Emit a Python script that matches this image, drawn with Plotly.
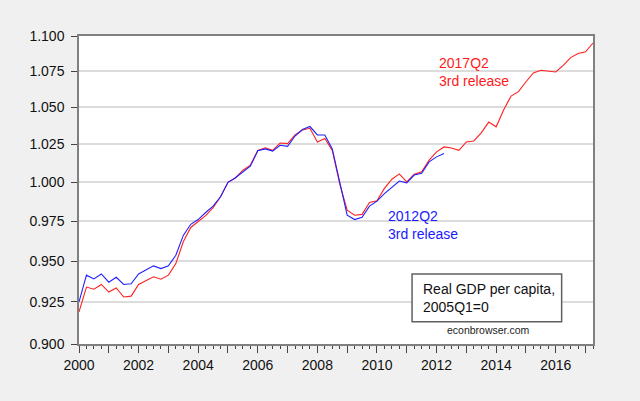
import math
import plotly.graph_objects as go

start_year = 2000
# Real GDP per capita, 2005Q1 = 1 (log scale), quarterly from 2000Q1
red_2017q2 = [0.919, 0.934, 0.9327, 0.9356, 0.931, 0.9335, 0.928, 0.9285,
              0.9356, 0.9378, 0.9403, 0.9388, 0.9413, 0.9484, 0.962, 0.971,
              0.9745, 0.9785, 0.9836, 0.9906, 1.000, 1.0028, 1.0079, 1.0112,
              1.021, 1.0227, 1.021, 1.0259, 1.0255, 1.0313, 1.0347, 1.0358,
              1.0266, 1.0289, 1.021, 0.999, 0.982, 0.9788, 0.9793, 0.987,
              0.988, 0.996, 1.002, 1.0055, 1.0002, 1.0053, 1.0068, 1.0145,
              1.020, 1.0233, 1.0226, 1.021, 1.0266, 1.0273, 1.0327, 1.040,
              1.0368, 1.0482, 1.0578, 1.0608, 1.0677, 1.0739, 1.0757, 1.0752,
              1.0745, 1.0792, 1.0846, 1.0875, 1.0887, 1.095]
blue_2012q2 = [0.925, 0.9413, 0.939, 0.942, 0.937, 0.940, 0.9356, 0.936,
               0.942, 0.9447, 0.947, 0.9453, 0.947, 0.9536, 0.966, 0.973,
               0.976, 0.9805, 0.9846, 0.9906, 1.000, 1.003, 1.0068, 1.0105,
               1.0207, 1.022, 1.0205, 1.0244, 1.0237, 1.0306, 1.035, 1.037,
               1.0313, 1.0313, 1.022, 1.001, 0.9788, 0.976, 0.9774, 0.9846,
               0.9878, 0.9926, 0.9968, 1.0008, 0.9996, 1.0047, 1.0059, 1.0134,
               1.0167, 1.019]

y_ticks = [0.900, 0.925, 0.950, 0.975, 1.000, 1.025, 1.050, 1.075, 1.100]
x_years = list(range(2000, 2018))
x_labels = [str(y) if y % 2 == 0 else "" for y in x_years]


def qx(n):
    return [start_year + i / 4 for i in range(n)]


FONT = "Arial, Liberation Sans, sans-serif"

fig = go.Figure()
fig.add_trace(go.Scatter(x=qx(len(red_2017q2)), y=red_2017q2, mode="lines",
                         line=dict(color="#ff2020", width=1.1), showlegend=False))
fig.add_trace(go.Scatter(x=qx(len(blue_2012q2)), y=blue_2012q2, mode="lines",
                         line=dict(color="#2020ff", width=1.1), showlegend=False))

fig.update_layout(
    width=640, height=401,
    margin=dict(l=79, r=47, t=36, b=57),
    paper_bgcolor="#f0f0f0", plot_bgcolor="white",
    font=dict(family=FONT, size=14, color="#111"),
    xaxis=dict(range=[2000, 2017.25], tickvals=x_years, ticktext=x_labels,
               ticks="outside", ticklen=7, tickcolor="#444", showgrid=False,
               showline=True, linecolor="#808080", linewidth=1.5, mirror=True,
               zeroline=False,
               minor=dict(tick0=2000, dtick=0.25, ticks="outside", ticklen=3,
                          tickcolor="#444", showgrid=False)),
    yaxis=dict(type="log", range=[math.log10(0.9), math.log10(1.1)],
               tickvals=y_ticks, ticktext=["%.3f" % v for v in y_ticks],
               ticks="outside", ticklen=6, tickcolor="#444",
               showgrid=True, gridcolor="#dcdcdc", gridwidth=1.5,
               showline=True, linecolor="#808080", linewidth=1.5, mirror=True,
               zeroline=False, ticklabelstandoff=4),
)

fig.add_annotation(xref="paper", yref="paper", x=0.697, y=0.882,
                   xanchor="left", yanchor="middle", align="left",
                   text="2017Q2<br>3rd release", showarrow=False,
                   font=dict(family=FONT, size=14, color="#ff1a1a"))
fig.add_annotation(xref="paper", yref="paper", x=0.597, y=0.386,
                   xanchor="left", yanchor="middle", align="left",
                   text="2012Q2<br>3rd release", showarrow=False,
                   font=dict(family=FONT, size=14, color="#1a1aff"))

fig.add_shape(type="rect", xref="paper", yref="paper",
              x0=0.648, x1=0.939, y0=0.0724, y1=0.227,
              line=dict(color="#606060", width=1.5), fillcolor="white")
fig.add_annotation(xref="paper", yref="paper", x=0.665, y=0.148,
                   xanchor="left", yanchor="middle", align="left",
                   text="Real GDP per capita,<br>2005Q1=0", showarrow=False,
                   font=dict(family=FONT, size=14, color="#111"))
fig.add_annotation(xref="paper", yref="paper", x=0.796, y=0.045,
                   xanchor="center", yanchor="middle",
                   text="econbrowser.com", showarrow=False,
                   font=dict(family=FONT, size=10.5, color="#222"))

fig.write_html("out.html",
               config={"displayModeBar": False},
               post_script="document.body.style.margin='0';"
                           "document.body.style.background='#f0f0f0';")
